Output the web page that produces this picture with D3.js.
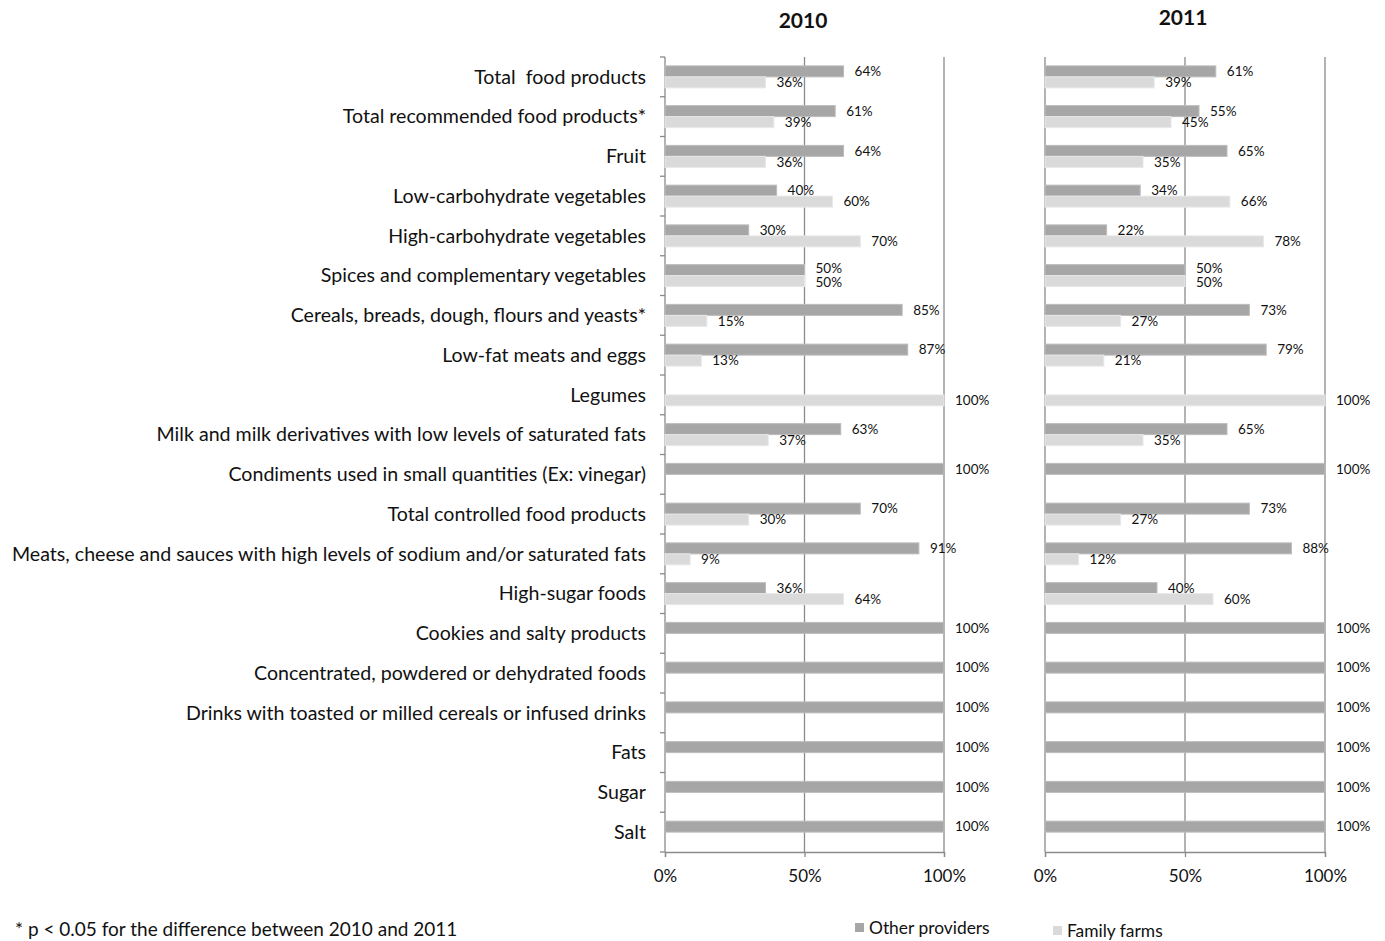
<!DOCTYPE html>
<html>
<head>
<meta charset="utf-8">
<script src="https://cdn.jsdelivr.net/npm/d3@7"></script>
<style>
  body { margin: 0; background: #fff; }
  svg { font-family: Lato, "Open Sans", sans-serif; }
</style>
</head>
<body>
<div id="chart"></div>
<script>
const categories = [
  'Total  food products',
  'Total recommended food products*',
  'Fruit',
  'Low-carbohydrate vegetables',
  'High-carbohydrate vegetables',
  'Spices and complementary vegetables',
  'Cereals, breads, dough, flours and yeasts*',
  'Low-fat meats and eggs',
  'Legumes',
  'Milk and milk derivatives with low levels of saturated fats',
  'Condiments used in small quantities (Ex: vinegar)',
  'Total controlled food products',
  'Meats, cheese and sauces with high levels of sodium and/or saturated fats',
  'High-sugar foods',
  'Cookies and salty products',
  'Concentrated, powdered or dehydrated foods',
  'Drinks with toasted or milled cereals or infused drinks',
  'Fats',
  'Sugar',
  'Salt'
];

const other2010  = [64, 61, 64, 40, 30, 50, 85, 87, 0, 63, 100, 70, 91, 36, 100, 100, 100, 100, 100, 100];
const family2010 = [36, 39, 36, 60, 70, 50, 15, 13, 100, 37, 0, 30, 9, 64, 0, 0, 0, 0, 0, 0];
const other2011  = [61, 55, 65, 34, 22, 50, 73, 79, 0, 65, 100, 73, 88, 40, 100, 100, 100, 100, 100, 100];
const family2011 = [39, 45, 35, 66, 78, 50, 27, 21, 100, 35, 0, 27, 12, 60, 0, 0, 0, 0, 0, 0];

const years = ['2010', '2011'];
const xTicks = [0, 50, 100];
const seriesNames = ['Other providers', 'Family farms'];

const width = 1385;
const height = 941;
const darkFill = '#a6a6a6', darkStroke = '#bcbcbc';
const lightFill = '#dadada', lightStroke = '#e8e8e8';
const axisColor = '#8a8a8a';

const svg = d3.select('#chart')
  .append('svg')
    .attr('width', width)
    .attr('height', height);

const y = d3.scaleBand()
  .domain(categories)
  .range([57, 852])
  .padding(0);

const barH = 11;

// category labels
svg.append('g')
  .selectAll('text')
  .data(categories)
  .enter()
  .append('text')
    .attr('x', 646)
    .attr('y', d => y(d) + y.bandwidth() / 2)
    .attr('dy', '0.35em')
    .attr('text-anchor', 'end')
    .attr('font-size', 19.6)
    .attr('fill', '#111')
    .style('white-space', 'pre')
    .text(d => d);

const panels = [
  { year: years[0], x0: 665, x1: 944, other: other2010, family: family2010, leftTicks: true, titleX: 803, titleY: 21 },
  { year: years[1], x0: 1045, x1: 1325, other: other2011, family: family2011, leftTicks: false, titleX: 1183, titleY: 18 }
];

panels.forEach(p => {
  const x = d3.scaleLinear().domain([0, 100]).range([p.x0, p.x1]);
  const g = svg.append('g');
  const top = y.range()[0], bottom = y.range()[1];

  // gridlines at 50 and 100
  g.selectAll('line.grid')
    .data([50, 100])
    .enter()
    .append('line')
      .attr('class', 'grid')
      .attr('x1', d => x(d)).attr('x2', d => x(d))
      .attr('y1', top).attr('y2', bottom)
      .attr('stroke', axisColor)
      .attr('stroke-width', 1.3);

  // left axis line
  g.append('line')
    .attr('x1', x(0)).attr('x2', x(0))
    .attr('y1', top).attr('y2', bottom)
    .attr('stroke', axisColor)
    .attr('stroke-width', 1.3);

  if (p.leftTicks) {
    g.selectAll('line.ltick')
      .data(d3.range(categories.length + 1))
      .enter()
      .append('line')
        .attr('class', 'ltick')
        .attr('x1', x(0) - 5).attr('x2', x(0))
        .attr('y1', i => top + i * y.step())
        .attr('y2', i => top + i * y.step())
        .attr('stroke', axisColor)
        .attr('stroke-width', 1.3);
  }

  // bottom axis
  const axis = g.append('g')
    .attr('transform', `translate(0,${bottom})`)
    .call(d3.axisBottom(x)
      .tickValues(xTicks)
      .tickSize(5)
      .tickPadding(13)
      .tickFormat(d => d + '%'));
  axis.select('.domain').attr('stroke', axisColor).attr('stroke-width', 1.3);
  axis.selectAll('.tick line').attr('stroke', axisColor).attr('stroke-width', 1.3);
  axis.selectAll('text')
    .attr('font-size', 17)
    .attr('font-family', 'Lato, sans-serif')
    .attr('fill', '#111');

  const rows = categories.map((c, i) => ({ c, other: p.other[i], family: p.family[i] }));

  // other providers bars
  g.selectAll('rect.other')
    .data(rows.filter(d => d.other > 0))
    .enter()
    .append('rect')
      .attr('class', 'other')
      .attr('x', x(0))
      .attr('y', d => y(d.c) + y.bandwidth() / 2 - barH)
      .attr('width', d => x(d.other) - x(0))
      .attr('height', barH)
      .attr('fill', darkFill)
      .attr('stroke', darkStroke)
      .attr('stroke-width', 1);

  g.selectAll('rect.family')
    .data(rows.filter(d => d.family > 0))
    .enter()
    .append('rect')
      .attr('class', 'family')
      .attr('x', x(0))
      .attr('y', d => y(d.c) + y.bandwidth() / 2)
      .attr('width', d => x(d.family) - x(0))
      .attr('height', barH)
      .attr('fill', lightFill)
      .attr('stroke', lightStroke)
      .attr('stroke-width', 1);

  // value labels (nudged apart slightly where both sit at the same x)
  const clash = d => d.other > 0 && d.family > 0 && d.other === d.family;

  g.selectAll('text.lo')
    .data(rows.filter(d => d.other > 0))
    .enter()
    .append('text')
      .attr('class', 'lo')
      .attr('x', d => x(d.other) + 11)
      .attr('y', d => y(d.c) + y.bandwidth() / 2 - barH / 2 - (clash(d) ? 1.5 : 0))
      .attr('dy', '0.35em')
      .attr('font-size', 13.5)
      .attr('fill', '#111')
      .text(d => d.other + '%');

  g.selectAll('text.lf')
    .data(rows.filter(d => d.family > 0))
    .enter()
    .append('text')
      .attr('class', 'lf')
      .attr('x', d => x(d.family) + 11)
      .attr('y', d => y(d.c) + y.bandwidth() / 2 + barH / 2 + (clash(d) ? 1.5 : 0))
      .attr('dy', '0.35em')
      .attr('font-size', 13.5)
      .attr('fill', '#111')
      .text(d => d.family + '%');

  // title
  svg.append('text')
    .attr('x', p.titleX)
    .attr('y', p.titleY)
    .attr('dy', '0.35em')
    .attr('text-anchor', 'middle')
    .attr('font-size', 21)
    .attr('font-weight', 'bold')
    .attr('fill', '#111')
    .text(p.year);
});

// legend
const legend = svg.append('g');
const legendItems = [
  { name: seriesNames[0], fill: darkFill, x: 855, y: 923 },
  { name: seriesNames[1], fill: lightFill, x: 1053, y: 926 }
];
legendItems.forEach(l => {
  legend.append('rect')
    .attr('x', l.x).attr('y', l.y)
    .attr('width', 9).attr('height', 9)
    .attr('fill', l.fill);
  legend.append('text')
    .attr('x', l.x + 14)
    .attr('y', l.y + 4.5)
    .attr('dy', '0.35em')
    .attr('font-size', 17.4)
    .attr('fill', '#111')
    .text(l.name);
});

// footnote
svg.append('text')
  .attr('x', 15)
  .attr('y', 929)
  .attr('dy', '0.35em')
  .attr('font-size', 19)
  .attr('fill', '#111')
  .text('* p < 0.05 for the difference between 2010 and 2011');
</script>
</body>
</html>
